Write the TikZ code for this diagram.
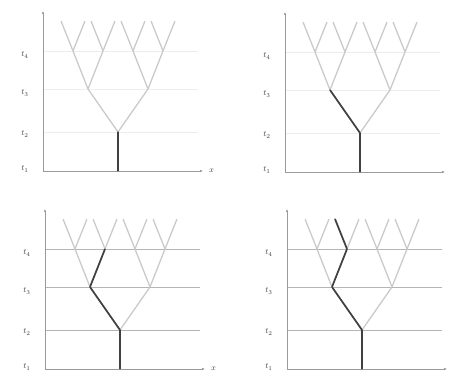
\documentclass[tikz,border=0pt]{standalone}
\usepackage{amsmath}
\usepackage{tikz}
\usetikzlibrary{arrows.meta,trees}

\definecolor{branchgray}{HTML}{CACACA}
\definecolor{walkgray}{HTML}{404040}
\definecolor{axisgray}{HTML}{9A9A9A}
\definecolor{gridfaint}{HTML}{EDEDED}
\definecolor{gridplain}{HTML}{B5B5B5}

\tikzset{
  axis/.style={draw=axisgray, line width=0.8pt, -{Latex[length=3pt,width=2.6pt]}},
  gridline/.style={line width=0.9pt},
  tlabel/.style={font=\fontsize{8.5}{9}\selectfont, text=black!75, inner sep=1pt},
  walk/.style={draw=walkgray, line width=1.7pt, line join=round, line cap=round},
}

% one x-t plane with its full tree; #1 name, #2 origin, #3 grid colour, #4 x label
\newcommand{\timeplane}[4]{%
\begin{scope}[shift={#2}]
  \coordinate (#1o) at (0,0);
  \coordinate (#1x) at (160,0);
  \coordinate (#1y) at (0,160);
  \draw[gridline, draw=#3] (0,39) -- (155,39);
  \draw[gridline, draw=#3] (0,82) -- (155,82);
  \draw[gridline, draw=#3] (0,120) -- (155,120);
  \draw[axis] (#1o) -- (#1x);
  \draw[axis] (#1o) -- (#1y);
  \node[tlabel] (#1t1) at (-18,2) {$t_1$};
  \node[tlabel] (#1t2) at (-18,37) {$t_2$};
  \node[tlabel] (#1t3) at (-18,78) {$t_3$};
  \node[tlabel] (#1t4) at (-18,116) {$t_4$};
  \node[tlabel, right=5pt] (#1xl) at (#1x) {#4};
  \node (#1) at (75,0) {}
    child { node {}
      child { node {}
        child { node {} child { node {} } child { node {} } }
        child { node {} child { node {} } child { node {} } }
      }
      child { node {}
        child { node {} child { node {} } child { node {} } }
        child { node {} child { node {} } child { node {} } }
      }
    };
\end{scope}}

\begin{document}
\begin{tikzpicture}[x=1pt,y=1pt,
grow'=up,
every node/.style={inner sep=0pt, minimum size=0pt},
edge from parent/.style={draw=branchgray, line width=1.3pt},
level 1/.style={level distance=39pt},
level 2/.style={level distance=43pt, sibling distance=60pt},
level 3/.style={level distance=38pt, sibling distance=30pt},
level 4/.style={level distance=30pt, sibling distance=24pt},]
\useasboundingbox (0,0) rectangle (450,374);

\timeplane{a}{(43,203)}{gridfaint}{$x$}
\timeplane{b}{(285,202)}{gridfaint}{}
\timeplane{c}{(45,5)}{gridplain}{$x$}
\timeplane{d}{(287,5)}{gridplain}{}

% the path taken so far
\draw[walk] (a) -- (a-1);
\draw[walk] (b) -- (b-1) -- (b-1-1);
\draw[walk] (c) -- (c-1) -- (c-1-1) -- (c-1-1-2);
\draw[walk] (d) -- (d-1) -- (d-1-1) -- (d-1-1-2) -- (d-1-1-2-1);
\end{tikzpicture}
\end{document}
